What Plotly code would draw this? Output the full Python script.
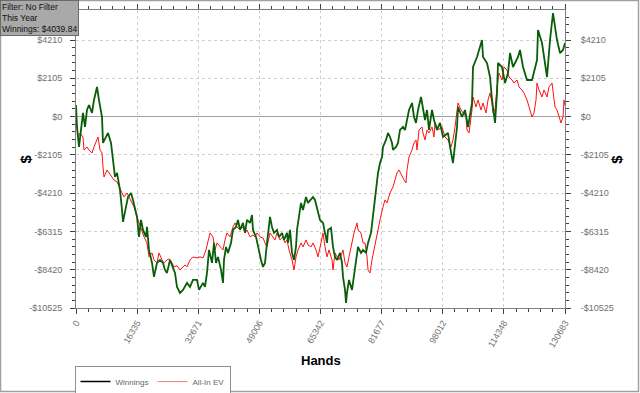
import plotly.graph_objects as go

# ---- data ----
hands_w = [0, 267, 802, 1604, 1871, 2405, 2940, 3474, 4276, 4811, 5612, 6147, 6949, 7216, 8018, 8552,
           9354, 9888, 10423, 10957, 11759, 12294, 12561, 13363, 13897, 14699, 15233, 16302, 16837,
           17371, 17906, 18708, 18975, 19509, 20311, 20846, 21647, 22449, 23251, 23785, 24320, 25122,
           25923, 26458, 26992, 27794, 28596, 29130, 29665, 30467, 31268, 32337, 32872, 33941, 34475,
           35010, 35544, 36346, 36881, 37415, 37950, 38751, 39286, 39553, 40088, 40622, 41424, 41958,
           42760, 43295, 43829, 44631, 45165, 45700, 46502, 47036, 47303, 48105, 48640, 49441, 49976,
           50510, 51045, 51847, 52381, 52916, 53718, 54252, 55054, 55588, 56390, 56657, 57192, 57726,
           58261, 58795, 59063, 59597, 60131, 60666, 61468, 62002, 62804, 63338, 63873, 64407, 65209,
           66011, 66545, 67080, 67347, 68149, 68683, 69218, 69752, 70554, 71089, 71356, 71890, 72158,
           72425, 72959, 73761, 74028, 74563, 75097, 75365, 76166, 76701, 77503, 78037, 78839, 79373,
           79908, 80443, 80710, 81244, 81779, 82046, 82848, 83382, 83917, 84452, 84719, 85520, 86055,
           86589, 87391, 87926, 88460, 88994, 89796, 90331, 90865, 91400, 92201, 92736, 93270, 93805,
           94339, 95141, 95676, 96477, 97279, 98081, 99417, 99952, 100753, 101823, 102090, 103159,
           103960, 104762, 105831, 106098, 107167, 108504, 108771, 109840, 110642, 111176, 111978,
           112512, 112780, 113849, 114650, 115452, 115987, 116788, 118125, 118659, 119461, 120530,
           121866, 123202, 123470, 124539, 125341, 125875, 126677, 127479, 128548, 129350, 130152,
           130683]
winnings = [638, -572, -1671, -352, 198, -572, 363, 638, 198, 912, 1627, 912, -22, -1451, -1121, -901,
            -1451, -2550, -3320, -3100, -4034, -5133, -5793, -4968, -4419, -4199, -4584, -5518, -6617,
            -5683, -6233, -6617, -6068, -7332, -8046, -8815, -8046, -7881, -8046, -8431, -8595, -7881,
            -8266, -8595, -9365, -9695, -9530, -9365, -9145, -9365, -8980, -8980, -9530, -9145, -9365,
            -8595, -7332, -8046, -6947, -8046, -7716, -8431, -9145, -7881, -7167, -7496, -6947, -6233,
            -6068, -5683, -6233, -5848, -6397, -5683, -5848, -5408, -6233, -6617, -7167, -7881, -8266,
            -8046, -6947, -5518, -6068, -6397, -6233, -6617, -6397, -6782, -6397, -6947, -6233, -7496,
            -7881, -7167, -6233, -5518, -4749, -5133, -4419, -4749, -4584, -4419, -4584, -4968, -5683,
            -5848, -6397, -6947, -6233, -6123, -7167, -7716, -7881, -7496, -8046, -8815, -9530, -10245,
            -9695, -8980, -9530, -9145, -8431, -7496, -7167, -7496, -7332, -7496, -6947, -6397, -5518,
            -4584, -3484, -3100, -2550, -2220, -1671, -1286, -901, -1121, -1451, -1836, -1671, -1451,
            -736, -572, -736, -187, 363, 747, -22, -352, 363, 1077, 363, -187, 363,
            -736, 363, -187, -736, -352, -1121, -901, -1671, -2550, -572, 528, -22,
            363, -572, 747, 2726, 3276, 4210, 3276, 2946, 2176, 912, -352,
            1297, 2946, 2726, 1847, 2396, 3495, 2726, 3276, 3660, 2726, 2012,
            2012, 3111, 4760, 4045, 2726, 2176, 4210, 5694, 4210, 3495, 3660,
            4040]

hands_ev = [0, 267, 535, 1069, 1871, 2138, 2940, 3474, 4276, 4811, 5612, 5880, 6414, 6949, 7216, 7483,
            8285, 8819, 9621, 10156, 10957, 11492, 12294, 12828, 13630, 14164, 14966, 15501, 16302,
            16837, 17639, 18173, 18975, 19509, 20311, 20846, 21647, 22182, 22984, 23518, 24320, 24854,
            25656, 26191, 26992, 27794, 28596, 29130, 29665, 30467, 31268, 32337, 33139, 33941, 34743,
            35277, 35812, 36613, 37148, 37682, 38484, 39286, 39820, 40355, 41157, 41958, 42493, 43027,
            43829, 44631, 45165, 45700, 46502, 47303, 47838, 48372, 49174, 49976, 50510, 51045, 51847,
            52649, 53183, 53718, 54519, 55321, 55856, 56390, 56925, 57726, 58261, 58795, 59330, 60131,
            60666, 61468, 62002, 62804, 63338, 64140, 64675, 65476, 66011, 66545, 67080, 67614, 68416,
            68683, 69218, 69752, 70287, 71089, 71356, 71890, 72425, 72959, 73761, 74296, 75097, 75365,
            76166, 76701, 77235, 77770, 78037, 78572, 79106, 79641, 80175, 80710, 81244, 82046, 82581,
            83115, 83917, 84719, 85253, 85788, 86322, 87124, 87658, 88193, 88460, 88994, 89796, 90331,
            90865, 91132, 91667, 92469, 92736, 93270, 93805, 94339, 95141, 95676, 95943, 96745, 97814,
            98616, 99417, 100219, 100753, 101288, 101823, 102090, 102891, 103426, 104228, 104495,
            105029, 105831, 106098, 106900, 107435, 108236, 108771, 109573, 110107, 110642, 111176,
            111443, 111978, 112512, 113047, 113849, 114383, 115185, 115719, 116521, 117056, 117857,
            118392, 119194, 119728, 120530, 121064, 121866, 122401, 122935, 123202, 123737, 124539,
            125073, 125875, 126410, 127211, 127479, 128013, 128548, 129083, 129617, 130152, 130419,
            130683]
allin_ev = [-77, -736, -1121, -901, -1121, -1836, -1671, -1836, -2001, -1671, -1286, -1121, -1836, -2001,
            -2770, -3320, -2935, -3100, -3320, -3484, -3594, -3869, -4199, -4419, -4199, -4419, -4749,
            -4968, -5518, -5848, -6233, -6617, -6947, -7716, -7496, -7881, -8046, -7496, -7881, -8046,
            -7881, -7830, -8046, -8266, -8200, -8431, -8266, -8156, -8266, -7881, -7716, -7771, -7716,
            -7771, -7332, -6782, -6397, -6617, -7332, -6947, -7167, -7332, -6782, -6397, -6617, -6068,
            -5848, -6068, -6233, -6068, -6397, -6233, -6617, -6507, -6617, -6397, -6617, -6672, -6947,
            -7167, -6397, -6617, -6782, -6397, -6782, -6617, -6947, -6782, -7332, -7881, -8431, -7716,
            -7332, -6947, -7167, -6782, -7057, -7167, -6947, -7332, -7716, -6947, -6397, -7167, -7716,
            -7332, -7881, -8431, -7496, -7716, -7881, -7496, -7332, -8046, -8266, -7716, -6947, -6397,
            -5848, -6233, -6397, -6947, -6947, -7716, -8431, -8595, -7881, -7332, -6782, -6068, -5683,
            -4968, -4584, -4749, -4199, -3869, -3484, -3100, -2935, -3320, -3484, -3649, -2935, -2220,
            -1836, -1451, -1286, -1836, -736, -572, -901, -1286, -736, -901, -572, -1121, -352, -736,
            -572, -1121, -1286, -1671, -1286, -572, 198, 747, 363, 198, -22, -736, -901, 363, 1077,
            528, 912, 363, 747, 198, 912, 1297, 747, 198, 363, 1627, 2396, 2012, 2726, 2561, 2176,
            2012, 1847, 2012, 1627, 1462, 1297, 912, 528, -22, 198, 912, 1847, 1462, 1077, 1462, 1077,
            1627, 1847, 1297, 528, 363, -22, -352, -22, 912, 600]

x_ticks = [0, 16335, 32671, 49006, 65342, 81677, 98012, 114348, 130683]
y_ticks = [-10525, -8420, -6315, -4210, -2105, 0, 2105, 4210]
y_labels = ["-$10525", "-$8420", "-$6315", "-$4210", "-$2105", "$0", "$2105", "$4210"]
series_names = ["Winnings", "All-In EV"]
info_lines = ["Filter: No Filter", "This Year", "Winnings: $4039.84"]

# ---- figure ----
GREEN = "#0a5e0a"
RED = "#ff1010"
FONT = "Liberation Sans, Arial, sans-serif"
TICKFONT = dict(family=FONT, size=9, color="#707070")

fig = go.Figure()
fig.add_trace(go.Scatter(x=hands_ev, y=allin_ev, mode="lines", line=dict(color=RED, width=1),
                         showlegend=False, hoverinfo="skip"))
fig.add_trace(go.Scatter(x=hands_w, y=winnings, mode="lines", line=dict(color=GREEN, width=1.8),
                         showlegend=False, hoverinfo="skip"))
# legend entries (the reference legend draws Winnings black and All-In EV light red)
fig.add_trace(go.Scatter(x=[None], y=[None], mode="lines", name=series_names[0],
                         line=dict(color="#000000", width=1.5), yaxis="y2"))
fig.add_trace(go.Scatter(x=[None], y=[None], mode="lines", name=series_names[1],
                         line=dict(color="#f08080", width=1), yaxis="y2"))

yrange = [-10525, 5860]
axis_common = dict(showline=True, linecolor="#808080", linewidth=1, automargin=False,
                   ticks="outside", ticklen=5, tickcolor="#404040", tickfont=TICKFONT)

fig.update_layout(
    width=640, height=393,
    margin=dict(l=76, r=75, t=10, b=85, autoexpand=False),
    paper_bgcolor="white", plot_bgcolor="white",
    font=dict(family=FONT, size=9, color="#555"),
    xaxis=dict(range=[0, 130683], tickvals=x_ticks, ticktext=[str(v) for v in x_ticks],
               tickangle=-60, mirror="ticks", showgrid=True, gridcolor="#cfcfcf",
               griddash="dot", gridwidth=1, zeroline=False,
               minor=dict(ticks="outside", ticklen=3, tickcolor="#404040",
                          tick0=0, dtick=130683 / 40, showgrid=False),
               **axis_common),
    yaxis=dict(range=yrange, tickvals=y_ticks, ticktext=y_labels, showgrid=True,
               gridcolor="#cfcfcf", griddash="dot", gridwidth=1,
               zeroline=True, zerolinecolor="#a0a0a0", zerolinewidth=1,
               ticklabelstandoff=6,
               minor=dict(ticks="outside", ticklen=3, tickcolor="#404040",
                          tick0=-10525, dtick=421, showgrid=False),
               **axis_common),
    yaxis2=dict(range=yrange, overlaying="y", side="right", tickvals=y_ticks, ticktext=y_labels,
                showgrid=False, zeroline=False, ticklabelstandoff=8,
                minor=dict(ticks="outside", ticklen=3, tickcolor="#404040",
                           tick0=-10525, dtick=421, showgrid=False),
                **axis_common),
    legend=dict(orientation="h", x=-0.003, xanchor="left", y=-0.195, yanchor="top",
                bordercolor="#909090", borderwidth=1, bgcolor="white",
                font=dict(family=FONT, size=8, color="#666"),
                itemwidth=30, entrywidth=32, tracegroupgap=0),
    showlegend=True,
)

# axis titles as annotations
fig.add_annotation(text="<b>Hands</b>", x=0.5, y=-0.145, xref="paper", yref="paper",
                   xanchor="center", yanchor="top", showarrow=False,
                   font=dict(family=FONT, size=13, color="#000"))
fig.add_annotation(text="<b>$</b>", x=-0.125, y=0.5, xref="paper", yref="paper",
                   textangle=-90, showarrow=False, font=dict(family=FONT, size=15, color="#000"))
fig.add_annotation(text="<b>$</b>", x=1.125, y=0.5, xref="paper", yref="paper",
                   textangle=-90, showarrow=False, font=dict(family=FONT, size=15, color="#000"))

# outer frame
fig.add_shape(type="rect", xref="paper", yref="paper",
              x0=-0.1544, x1=1.1503, y0=-0.2802, y1=1.0319,
              line=dict(color="#a0a0a0", width=1.5), layer="below")

# info box top-left
fig.add_annotation(text="<br>".join(info_lines), x=-0.1544, y=1.0319, xref="paper", yref="paper",
                   xanchor="left", yanchor="top", align="left", showarrow=False,
                   bgcolor="#a9a9a9", bordercolor="#6a6a6a", borderwidth=1, borderpad=1,
                   font=dict(family=FONT, size=8.5, color="#111"))

fig.write_html("out.html", config={"displayModeBar": False},
               post_script="document.body.style.margin='0';")
